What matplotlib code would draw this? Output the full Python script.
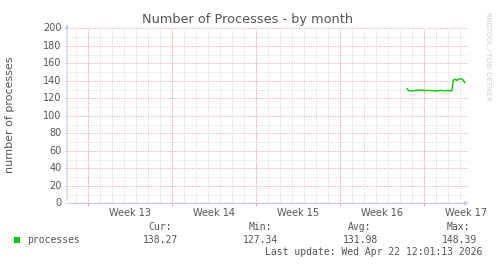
import matplotlib
matplotlib.use("Agg")
import matplotlib.pyplot as plt
import numpy as np

# data (x in days from the left edge of the graph)
days = [28.36, 28.44, 28.58, 29.14, 29.58, 29.83, 30.08, 30.33, 30.81, 31.08,
        31.42, 31.75, 32.06, 32.19, 32.33, 32.47, 32.61, 32.81, 32.97, 33.14]
procs = [131.0, 128.8, 128.3, 129.1, 129.5, 128.8, 129.1, 128.8, 128.3, 129.1,
         128.6, 128.8, 128.3, 140.6, 141.7, 140.6, 141.4, 142.5, 141.4, 138.0]
week_labels = ["Week 13", "Week 14", "Week 15", "Week 16", "Week 17"]
week_starts = [1.72, 8.72, 15.72, 22.72, 29.72]
stat_names = ["Cur:", "Min:", "Avg:", "Max:"]
stat_values = ["138.27", "127.34", "131.98", "148.39"]
last_update = "Last update: Wed Apr 22 12:01:13 2026"

W, H = 497, 264
fig = plt.figure(figsize=(W / 100, H / 100), dpi=100)
fig.patch.set_facecolor("white")

x0, x1, ytop, ybot = 67, 467, 28.3, 203.3
ax = fig.add_axes([x0 / W, 1 - ybot / H, (x1 - x0) / W, (ybot - ytop) / H])
xmax = 33.33
ax.set_xlim(0, xmax)
ax.set_ylim(0, 200)
for s in ax.spines.values():
    s.set_visible(False)
ax.set_xticks([])
ax.set_yticks([])

txt = "#555555"
dash = (0, (1, 1.5))
# minor grid
for d in np.arange(0.72, xmax, 1.0):
    ax.axvline(d, color="#cfcfcf", lw=0.6, ls=dash, zorder=1)
for v in range(10, 201, 20):
    ax.axhline(v, color="#cfcfcf", lw=0.6, ls=dash, zorder=1)
# major grid
for d in week_starts:
    ax.axvline(d, color="#e6a0a0", lw=0.7, ls=dash, zorder=2)
    ax.plot([d, d], [-2.5, 0], color="#e6a0a0", lw=0.7, clip_on=False)
for v in range(0, 201, 20):
    ax.plot([-0.2, xmax], [v, v], color="#e6a0a0", lw=0.7, ls=dash, zorder=2, clip_on=False)
    ax.text(-0.45, v, str(v), ha="right", va="center", fontsize=7, color=txt)

# axes with arrows
axcol = "#c8c8f4"
ax.annotate("", xy=(0, 1.04), xytext=(0, 0), xycoords="axes fraction",
            arrowprops=dict(arrowstyle="-|>", color=axcol, lw=0.8, mutation_scale=6))
ax.annotate("", xy=(1.012, 0), xytext=(0, 0), xycoords="axes fraction",
            arrowprops=dict(arrowstyle="-|>", color=axcol, lw=0.8, mutation_scale=6))

ax.plot(days, procs, color="#00cc00", lw=1.0, zorder=5)

for lab, d in zip(week_labels, week_starts):
    ax.text(d + 3.5, -5.5, lab, ha="center", va="top", fontsize=7, color=txt, clip_on=False)

fig.text(248 / W, 1 - 20 / H, "Number of Processes - by month", ha="center",
         va="center", fontsize=9.3, color=txt)
fig.text(10 / W, 1 - 115 / H, "number of processes", rotation=90, ha="center",
         va="center", fontsize=8, color=txt)
fig.text(488 / W, 1 - 56 / H, "RRDTOOL / TOBI OETIKER", rotation=270, ha="center",
         va="center", fontsize=5, color="#cccccc")

# legend
mono = "DejaVu Sans Mono"
fig.patches.append(plt.Rectangle((14 / W, 1 - 242.5 / H), 6 / W, 6 / H,
                                 transform=fig.transFigure, facecolor="#00cc00",
                                 edgecolor="none"))
fig.text(27 / W, 1 - 240 / H, "processes", family=mono, fontsize=7, color=txt,
         ha="left", va="center")
head_x = [172, 272, 371, 470]
val_x = [178, 278, 378, 477]
for n, v, hx, vx in zip(stat_names, stat_values, head_x, val_x):
    fig.text(hx / W, 1 - 227 / H, n, family=mono, fontsize=7, color=txt,
             ha="right", va="center")
    fig.text(vx / W, 1 - 240 / H, v, family=mono, fontsize=7, color=txt,
             ha="right", va="center")
fig.text(482 / W, 1 - 252 / H, last_update, family=mono, fontsize=7, color=txt,
         ha="right", va="center")

fig.savefig("out.png", dpi=100)
